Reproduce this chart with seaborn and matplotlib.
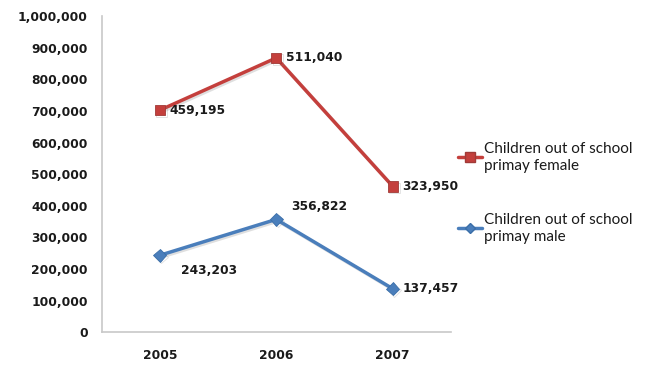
import matplotlib
matplotlib.use("Agg")
import matplotlib.pyplot as plt
import matplotlib.patheffects as pe
from matplotlib.lines import Line2D
import seaborn as sns
import pandas as pd
import numpy as np

years = ["2005", "2006", "2007"]
female = [459195, 511040, 323950]
male = [243203, 356822, 137457]
female_name = "Children out of school\nprimay female"
male_name = "Children out of school\nprimay male"
yticks = [0, 100000, 200000, 300000, 400000, 500000, 600000, 700000, 800000, 900000, 1000000]

RED = "#C43F3C"
BLUE = "#4A7EBB"

sns.set_theme(style="white")
plt.rcParams['font.family'] = ['DejaVu Sans']

# stacked line chart: female is stacked on top of male
male_arr = np.array(male)
female_stack = male_arr + np.array(female)

df = pd.DataFrame({
    "year": years * 2,
    "value": list(male_arr) + list(female_stack),
    "label": list(male) + list(female),
    "series": ["male"] * 3 + ["female"] * 3,
})

fig = plt.figure(figsize=(6.47, 3.67), dpi=100)
ax = fig.add_axes([0.157, 0.095, 0.54, 0.861])

shadow = [pe.SimpleLineShadow(offset=(1.2, -1.2), shadow_color="gray", alpha=0.25), pe.Normal()]

sns.lineplot(data=df[df.series == "male"], x="year", y="value", ax=ax, color=BLUE,
             marker="D", markersize=6.5, markeredgecolor="#3A6EA8", markeredgewidth=0.6,
             linewidth=2.5, sort=False, path_effects=shadow)
sns.lineplot(data=df[df.series == "female"], x="year", y="value", ax=ax, color=RED,
             marker="s", markersize=7.5, markeredgecolor="#A03A37", markeredgewidth=0.6,
             linewidth=2.5, sort=False, path_effects=shadow)

ax.set_xlim(-0.5, 2.5)
ax.set_ylim(0, 1000000)
ax.set_yticks(yticks)
ax.set_yticklabels([f"{v:,}" for v in yticks])
ax.set_xlabel("")
ax.set_ylabel("")
for lab in ax.get_xticklabels() + ax.get_yticklabels():
    lab.set_fontweight("bold")
    lab.set_fontsize(8.8)
    lab.set_color("#1a1a1a")
ax.tick_params(axis="both", length=0, pad=10)
ax.tick_params(axis="x", pad=12)
for s in ["top", "right"]:
    ax.spines[s].set_visible(False)
for s in ["left", "bottom"]:
    ax.spines[s].set_color("#C8C8C8")
    ax.spines[s].set_linewidth(1.2)

lblkw = dict(fontsize=8.8, fontweight="bold", color="#1a1a1a", va="center")
fem = df[df.series == "female"].reset_index(drop=True)
for i, r in fem.iterrows():
    ax.annotate(f"{r['label']:,}", (i, r["value"]), xytext=(7, 0), textcoords="offset points", ha="left", **lblkw)
mal = df[df.series == "male"].reset_index(drop=True)
offsets = [(15, -11), (11, 9), (7, 0)]
for i, r in mal.iterrows():
    ax.annotate(f"{r['label']:,}", (i, r["value"]), xytext=offsets[i], textcoords="offset points", ha="left", **lblkw)

handles = [
    Line2D([], [], color=RED, marker="s", markersize=6.5, linewidth=2.5, markeredgecolor="#A03A37"),
    Line2D([], [], color=BLUE, marker="D", markersize=5, linewidth=2.5, markeredgecolor="#3A6EA8"),
]
leg = fig.legend(handles, [female_name, male_name], loc="center left",
                 bbox_to_anchor=(0.686, 0.475), frameon=False, handlelength=1.6,
                 handletextpad=0.1, labelspacing=2.6,
                 prop={"family": "Lato", "size": 11})
for t in leg.get_texts():
    t.set_color("#1a1a1a")
    t.set_linespacing(1.3)

fig.savefig("out.png", dpi=100)
